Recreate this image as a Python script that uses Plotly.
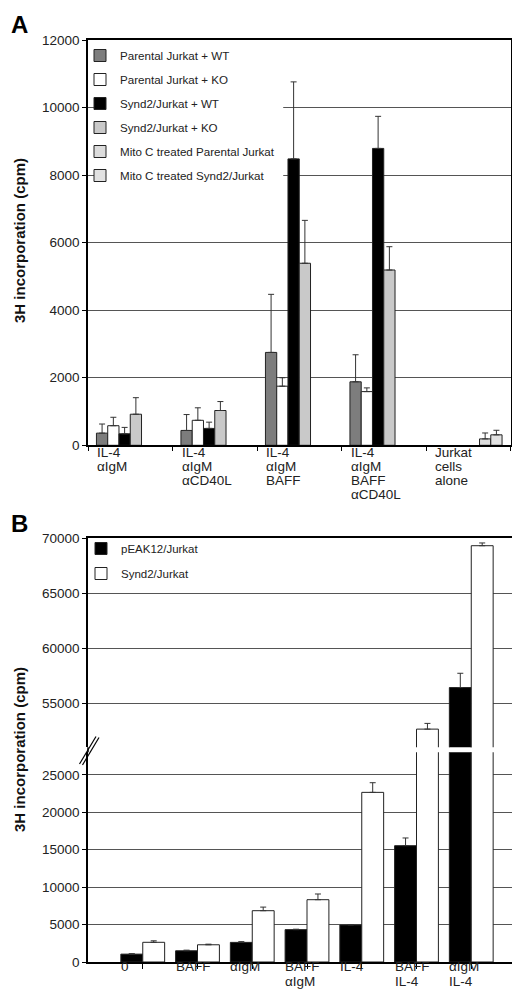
import plotly.graph_objects as go

# panel A data
groups_a = [
    ["IL-4", "αIgM"],
    ["IL-4", "αIgM", "αCD40L"],
    ["IL-4", "αIgM", "BAFF"],
    ["IL-4", "αIgM", "BAFF", "αCD40L"],
    ["Jurkat", "cells", "alone"],
]
series_a = [
    "Parental Jurkat + WT",
    "Parental Jurkat + KO",
    "Synd2/Jurkat + WT",
    "Synd2/Jurkat + KO",
    "Mito C treated Parental Jurkat",
    "Mito C treated Synd2/Jurkat",
]
values_a = [
    [360, 440, 2750, 1880, None],
    [580, 740, 1750, 1590, None],
    [340, 500, 8480, 8790, None],
    [920, 1030, 5390, 5190, None],
    [None, None, None, None, 190],
    [None, None, None, None, 310],
]
errors_a = [
    [270, 470, 1720, 800, 0],
    [250, 370, 250, 110, 0],
    [190, 185, 2280, 950, 0],
    [490, 265, 1270, 690, 0],
    [0, 0, 0, 0, 175],
    [0, 0, 0, 0, 135],
]
colors_a = ["#7d7d7d", "#ffffff", "#000000", "#c9c9c9", "#dcdcdc", "#e2e2e2"]

# panel B data
groups_b = [["0"], ["BAFF"], ["αIgM"], ["BAFF", "αIgM"], ["IL-4"], ["BAFF", "IL-4"], ["αIgM", "IL-4"]]
series_b = ["pEAK12/Jurkat", "Synd2/Jurkat"]
values_b = [
    [1050, 1500, 2620, 4320, 4940, 15530, 56420],
    [2630, 2300, 6850, 8320, 22650, 52650, 69300],
]
errors_b = [
    [60, 80, 100, 60, 60, 1030, 1300],
    [200, 80, 480, 760, 1290, 520, 250],
]
colors_b = ["#000000", "#ffffff"]

W, H = 520, 993


def px(p):
    return p / W


def py(p):
    return 1 - p / H


FONT = "Liberation Sans, Arial, sans-serif"
cats_a = [" ".join(g) for g in groups_a]
cats_b = [" ".join(g) for g in groups_b]

fig = go.Figure()

for i, name in enumerate(series_a):
    fig.add_trace(go.Bar(
        x=cats_a, y=values_a[i], name=name,
        marker={"color": colors_a[i], "line": {"color": "#222", "width": 1}},
        error_y={"type": "data", "array": errors_a[i], "arrayminus": [0] * 5,
                 "symmetric": False, "color": "#333", "thickness": 1, "width": 3},
        xaxis="x", yaxis="y", legend="legend", legendgroup=f"a{i}",
    ))

for i, name in enumerate(series_b):
    for xa, ya, show in (("x2", "y2", True), ("x3", "y3", False)):
        fig.add_trace(go.Bar(
            x=cats_b, y=values_b[i], name=name,
            marker={"color": colors_b[i], "line": {"color": "#222", "width": 1}},
            error_y={"type": "data", "array": errors_b[i], "arrayminus": [0] * 7,
                     "symmetric": False, "color": "#333", "thickness": 1, "width": 3},
            xaxis=xa, yaxis=ya, legend="legend2", showlegend=show,
            legendgroup=f"b{i}",
        ))

axis_common = {"showline": True, "linecolor": "#000", "linewidth": 1.5,
               "tickfont": {"size": 13.5, "color": "#222", "family": FONT},
               "automargin": False, "zeroline": False, "tickformat": "d"}

fig.update_layout(
    width=W, height=H, autosize=False,
    margin={"l": 0, "r": 0, "t": 0, "b": 0},
    paper_bgcolor="white", plot_bgcolor="white",
    font={"family": FONT, "color": "#222"},
    barmode="group", bargap=0.2, bargroupgap=0,
    xaxis={**axis_common, "domain": [px(80), px(502.5)], "anchor": "y",
           "type": "category", "categoryarray": cats_a, "tickson": "boundaries",
           "ticks": "outside", "ticklen": 4, "tickcolor": "#000",
           "showticklabels": False, "mirror": True, "showgrid": False},
    yaxis={**axis_common, "domain": [py(437.3), py(32)], "anchor": "x",
           "range": [0, 12000], "dtick": 2000, "ticks": "outside", "ticklen": 4,
           "tickcolor": "#000", "showgrid": True, "gridcolor": "#555",
           "gridwidth": 1, "mirror": True},
    xaxis2={**axis_common, "domain": [px(80), px(518)], "anchor": "y2",
            "type": "category", "categoryarray": cats_b, "range": [-1, 7],
            "ticks": "outside", "ticklen": 5, "tickcolor": "#000",
            "showticklabels": False, "showgrid": False},
    yaxis2={**axis_common, "domain": [py(954), py(744.3)], "anchor": "x2",
            "range": [0, 28000], "dtick": 5000, "ticks": "outside", "ticklen": 4,
            "tickcolor": "#000", "showgrid": True, "gridcolor": "#555",
            "gridwidth": 1, "mirror": True},
    xaxis3={**axis_common, "domain": [px(80), px(518)], "anchor": "y3",
            "matches": "x2", "type": "category", "side": "top",
            "ticks": "", "showticklabels": False, "showgrid": False},
    yaxis3={**axis_common, "domain": [py(739.3), py(530)], "anchor": "x3",
            "range": [51000, 70000], "dtick": 5000, "ticks": "outside",
            "ticklen": 4, "tickcolor": "#000", "showgrid": True,
            "gridcolor": "#555", "gridwidth": 1, "mirror": True},
    legend={"x": px(72), "y": py(33), "xanchor": "left", "yanchor": "top",
            "bgcolor": "rgba(0,0,0,0)", "font": {"size": 11.6, "family": FONT, "color": "#222"},
            "traceorder": "grouped", "tracegroupgap": 5, "itemwidth": 30},
    legend2={"x": px(73), "y": py(526), "xanchor": "left", "yanchor": "top",
             "bgcolor": "rgba(0,0,0,0)", "font": {"size": 11.5, "family": FONT, "color": "#222"},
             "traceorder": "grouped", "tracegroupgap": 6, "itemwidth": 30},
)

annotations = []
# category labels, one annotation per text line
for i, lines in enumerate(groups_a):
    for j, line in enumerate(lines):
        annotations.append({"x": i, "y": 0, "xref": "x", "yref": "y domain",
                            "text": line, "showarrow": False, "xanchor": "left",
                            "yanchor": "middle", "xshift": -35, "yshift": -7 - 14 * j,
                            "font": {"size": 13.5, "family": FONT, "color": "#222"}})
for i, lines in enumerate(groups_b):
    for j, line in enumerate(lines):
        annotations.append({"x": i, "y": 0, "xref": "x2", "yref": "y2 domain",
                            "text": line, "showarrow": False, "xanchor": "left",
                            "yanchor": "middle", "xshift": -24, "yshift": -4 - 15 * j,
                            "font": {"size": 13.5, "family": FONT, "color": "#222"}})

annotations += [
    {"x": px(1), "y": py(1), "xref": "paper", "yref": "paper", "text": "<b>A</b>",
     "showarrow": False, "xanchor": "left", "yanchor": "top",
     "font": {"size": 24, "family": FONT, "color": "#000"}},
    {"x": px(1), "y": py(500), "xref": "paper", "yref": "paper", "text": "<b>B</b>",
     "showarrow": False, "xanchor": "left", "yanchor": "top",
     "font": {"size": 24, "family": FONT, "color": "#000"}},
    {"x": px(11), "y": py(233), "xref": "paper", "yref": "paper",
     "text": "<b>3H incorporation (cpm)</b>", "showarrow": False, "textangle": -90,
     "xanchor": "center", "yanchor": "middle",
     "font": {"size": 15, "family": FONT, "color": "#111"}},
    {"x": px(11), "y": py(742), "xref": "paper", "yref": "paper",
     "text": "<b>3H incorporation (cpm)</b>", "showarrow": False, "textangle": -90,
     "xanchor": "center", "yanchor": "middle",
     "font": {"size": 15, "family": FONT, "color": "#111"}},
]
fig.update_layout(annotations=annotations)

# white backing behind the panel A legend (in axis units): above grid, under bars
shapes = [
    {"type": "rect", "xref": "x", "yref": "y", "layer": "between",
     "x0": -0.32, "x1": 1.81, "y0": 7440, "y1": 11700,
     "fillcolor": "white", "line": {"width": 0}},
    # axis break decoration
    {"type": "line", "xref": "paper", "yref": "paper", "x0": px(80), "x1": px(80),
     "y0": py(744.3), "y1": py(739.3), "line": {"color": "#000", "width": 1.5}},
    {"type": "line", "xref": "paper", "yref": "paper", "x0": px(518), "x1": px(518),
     "y0": py(744.3), "y1": py(739.3), "line": {"color": "#000", "width": 1.5}},
    {"type": "line", "xref": "paper", "yref": "paper", "x0": px(71.5), "x1": px(88),
     "y0": py(756), "y1": py(728.5), "line": {"color": "#000", "width": 1.2}},
    {"type": "line", "xref": "paper", "yref": "paper", "x0": px(74.5), "x1": px(91),
     "y0": py(757), "y1": py(729.5), "line": {"color": "#000", "width": 1.2}},
]
fig.update_layout(shapes=shapes)

fig.write_html("out.html")
